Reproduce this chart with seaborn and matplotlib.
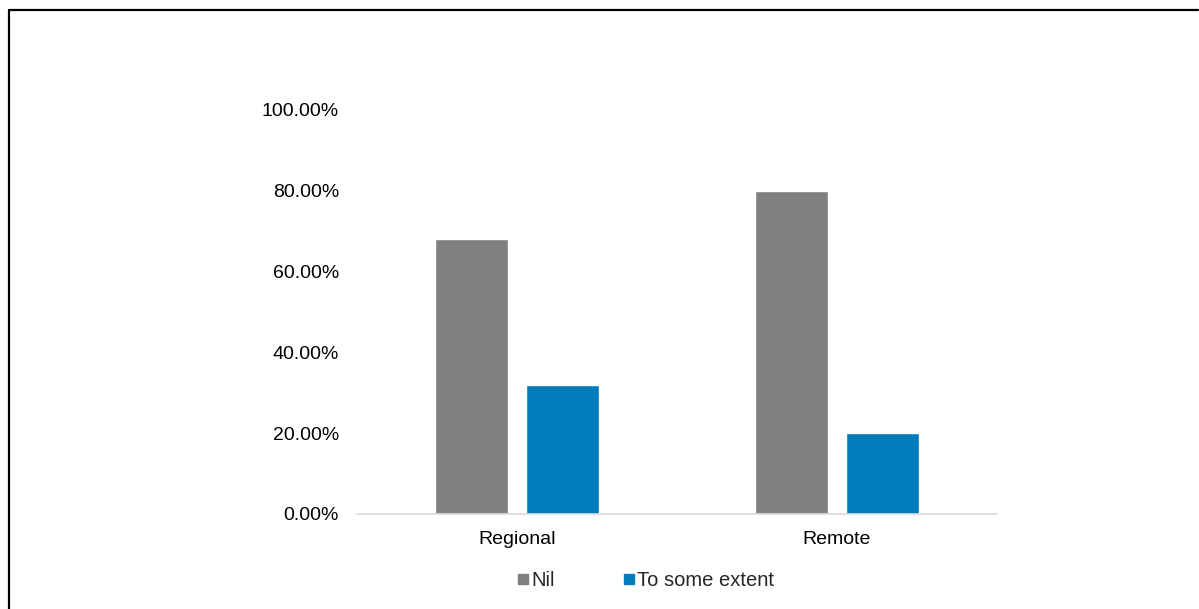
import pandas as pd
import seaborn as sns
import matplotlib.pyplot as plt
from matplotlib.lines import Line2D
from matplotlib.ticker import FuncFormatter

# values (percent)
areas = ["Regional", "Remote"]
nil = [68, 80]
some_extent = [32, 20]
series = ["Nil", "To some extent"]
colors = ["#7f7f7f", "#007cba"]

df = pd.DataFrame({
    "area": areas * 2,
    "series": [series[0]] * 2 + [series[1]] * 2,
    "value": nil + some_extent,
})

sns.set_style("white")
plt.rcParams['font.family'] = ['Liberation Sans', 'DejaVu Sans']

fig = plt.figure(figsize=(11.99, 6.09), dpi=100)
ax = fig.add_axes([357 / 1199, 95 / 609, 640 / 1199, 404 / 609])

sns.barplot(data=df, x="area", y="value", hue="series", palette=colors,
            width=0.57, gap=0.2, saturation=1, ax=ax, legend=False)

ax.set_xlim(-0.5, 1.5)
ax.set_ylim(0, 100)
ax.set_yticks([0, 20, 40, 60, 80, 100])
ax.yaxis.set_major_formatter(FuncFormatter(lambda v, p: "{:.2f}%".format(v)))
ax.tick_params(axis="y", length=0, pad=13, labelsize=14, colors="#000000")
ax.tick_params(axis="x", length=0, pad=12, labelsize=14, colors="#000000")
ax.set_xlabel("")
ax.set_ylabel("")
for s in ["top", "right", "left"]:
    ax.spines[s].set_visible(False)
ax.spines["bottom"].set_color("#d9d9d9")
ax.spines["bottom"].set_linewidth(1.2)

# legend below the plot
handles = [Line2D([0], [0], marker="s", linestyle="", markersize=7,
                  markerfacecolor=c, markeredgecolor=c) for c in colors]
fig.legend(handles, series, loc="center", bbox_to_anchor=(645 / 1199, 1 - 581 / 609),
           ncol=2, frameon=False, fontsize=14.5, handletextpad=0.05,
           columnspacing=3.3, handlelength=0.7)

# chart frame (left and top edges visible in the reference)
fig.add_artist(Line2D([8.5 / 1199, 8.5 / 1199], [0, 1 - 9.5 / 609],
                      transform=fig.transFigure, color="black", linewidth=1.6))
fig.add_artist(Line2D([8.5 / 1199, 1198 / 1199], [1 - 9.5 / 609, 1 - 9.5 / 609],
                      transform=fig.transFigure, color="black", linewidth=1.6))

fig.savefig("out.png", dpi=100)
